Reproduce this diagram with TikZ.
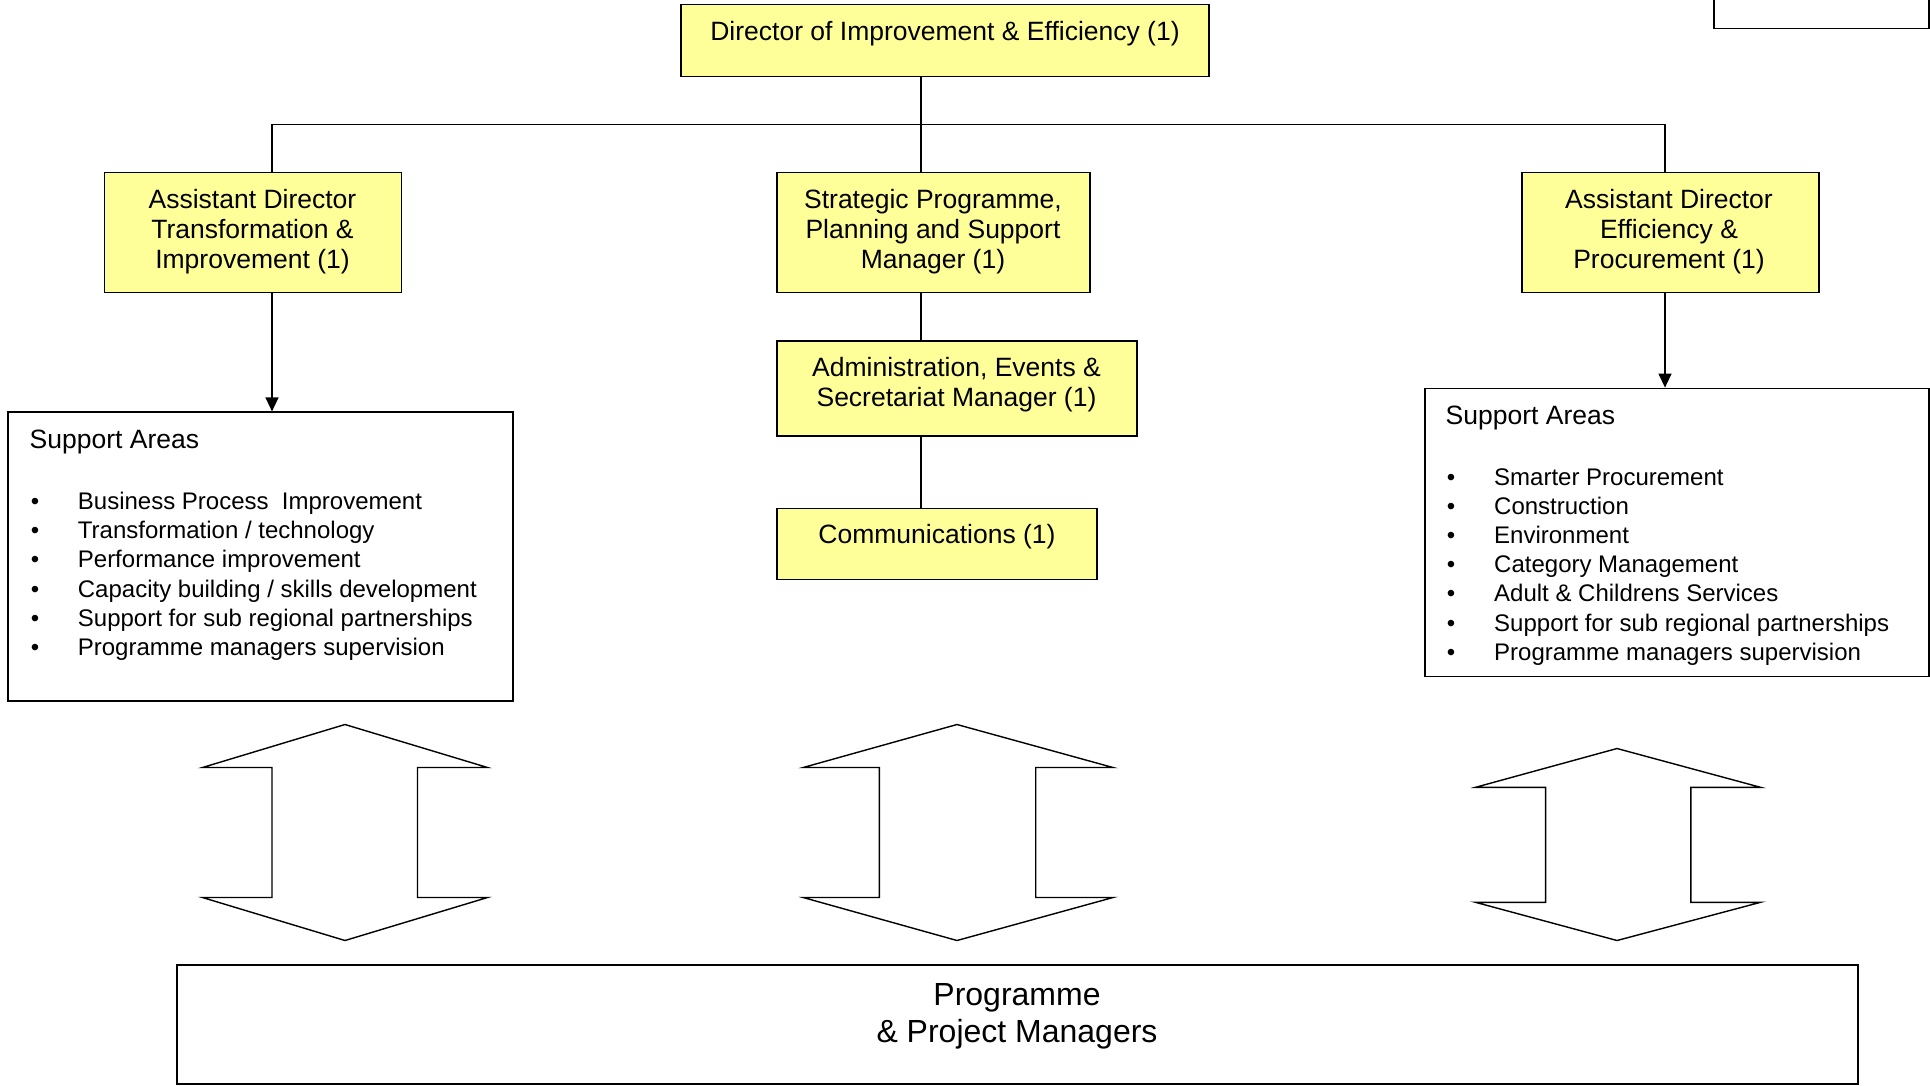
\documentclass[tikz,border=0pt]{standalone}
\usepackage{fontspec}
\setmainfont{Liberation Sans}
\usetikzlibrary{arrows.meta}
\definecolor{boxyellow}{HTML}{FFFF99}
\begin{document}
\begin{tikzpicture}[x=1pt,y=-1pt,
  ybox/.style={draw=black, line width=1.4pt, fill=boxyellow, inner sep=0pt},
  wbox/.style={draw=black, line width=1.4pt, fill=white, inner sep=0pt},
  conn/.style={draw=black, line width=1.4pt},
  arr/.style={conn, -{Triangle[length=14pt,width=13pt]}},
  dbl/.style={draw=black, line width=1.4pt, line join=miter},
  btxt/.style={font=\fontsize{26.5}{30}\selectfont, align=center, anchor=base, inner sep=0pt},
  htxt/.style={font=\fontsize{26.5}{30}\selectfont, anchor=base west, inner sep=0pt},
  ltxt/.style={font=\fontsize{24}{29.2}\selectfont, anchor=base west, inner sep=0pt},
  bul/.style={font=\fontsize{24}{29.2}\selectfont, anchor=base, inner sep=0pt},
  bigtxt/.style={font=\fontsize{32}{37}\selectfont, align=center, anchor=base, inner sep=0pt}]
\useasboundingbox (0,0) rectangle (1930,1085);

% partial box at top right
\draw[conn] (1714,0) -- (1714,28.3) -- (1929,28.3) -- (1929,0);

% boxes (text nodes anchored at the baseline of their last line)
\node[ybox, minimum width=528pt, minimum height=72pt] (dir) at (945,40.3) {};
\node[btxt] (dirt) at (945,40) {Director of Improvement \& Efficiency (1)};

\node[ybox, minimum width=297pt, minimum height=120pt] (adt) at (253,232.6) {};
\node[btxt] (adtt) at (252.5,268.3) {Assistant Director\\Transformation \&\\Improvement (1)};

\node[ybox, minimum width=313pt, minimum height=120pt] (spp) at (933.5,232.6) {};
\node[btxt] (sppt) at (933,268.3) {Strategic Programme,\\Planning and Support\\Manager (1)};

\node[ybox, minimum width=297pt, minimum height=120pt] (ade) at (1670.5,232.6) {};
\node[btxt] (adet) at (1669,268.3) {Assistant Director\\Efficiency \&\\Procurement (1)};

\node[ybox, minimum width=360pt, minimum height=95pt] (adm) at (957,388.5) {};
\node[btxt] (admt) at (956.5,406.5) {Administration, Events \&\\Secretariat Manager (1)};

\node[ybox, minimum width=320pt, minimum height=71.5pt] (com) at (937,544) {};
\node[btxt] (comt) at (937,543.5) {Communications (1)};

% support boxes
\node[wbox, minimum width=505pt, minimum height=289pt] (supL) at (260.5,556.6) {};
\node[htxt] (supLh) at (29.5,448.3) {Support Areas};
\node[bul] (lb1) at (35,509.5) {•}; \node[ltxt] (l1) at (77.7,509.5) {Business Process\ \ Improvement};
\node[bul] (lb2) at (35,538.7) {•}; \node[ltxt] (l2) at (77.7,538.7) {Transformation / technology};
\node[bul] (lb3) at (35,567.9) {•}; \node[ltxt] (l3) at (77.7,567.9) {Performance improvement};
\node[bul] (lb4) at (35,597.1) {•}; \node[ltxt] (l4) at (77.7,597.1) {Capacity building / skills development};
\node[bul] (lb5) at (35,626.3) {•}; \node[ltxt] (l5) at (77.7,626.3) {Support for sub regional partnerships};
\node[bul] (lb6) at (35,655.5) {•}; \node[ltxt] (l6) at (77.7,655.5) {Programme managers supervision};

\node[wbox, minimum width=504pt, minimum height=288.4pt] (supR) at (1677,532.5) {};
\node[htxt] (supRh) at (1445.5,424) {Support Areas};
\node[bul] (rb1) at (1451,485.0) {•}; \node[ltxt] (r1) at (1494,485.0) {Smarter Procurement};
\node[bul] (rb2) at (1451,514.2) {•}; \node[ltxt] (r2) at (1494,514.2) {Construction};
\node[bul] (rb3) at (1451,543.4) {•}; \node[ltxt] (r3) at (1494,543.4) {Environment};
\node[bul] (rb4) at (1451,572.6) {•}; \node[ltxt] (r4) at (1494,572.6) {Category Management};
\node[bul] (rb5) at (1451,601.8) {•}; \node[ltxt] (r5) at (1494,601.8) {Adult \& Childrens Services};
\node[bul] (rb6) at (1451,631.0) {•}; \node[ltxt] (r6) at (1494,631.0) {Support for sub regional partnerships};
\node[bul] (rb7) at (1451,660.2) {•}; \node[ltxt] (r7) at (1494,660.2) {Programme managers supervision};

% bottom box
\node[wbox, minimum width=1681pt, minimum height=119pt] (pm) at (1017.5,1024.5) {};
\node[bigtxt] (pmt) at (1017,1042) {Programme\\\& Project Managers};

% connectors
\coordinate (cL) at (272,124.3);
\coordinate (cM) at (921,124.3);
\coordinate (cR) at (1665,124.3);
\draw[conn] (dir.south -| cM) -- (cM);
\draw[conn] (cL) -- (cR);
\draw[conn] (cL) -- (adt.north -| cL);
\draw[conn] (cM) -- (spp.north -| cM);
\draw[conn] (cR) -- (ade.north -| cR);
\draw[conn] (spp.south -| cM) -- (adm.north -| cM);
\draw[conn] (adm.south -| cM) -- (com.north -| cM);
\draw[arr] (adt.south -| cL) -- (supL.north -| cL);
\draw[arr] (ade.south -| cR) -- (supR.north -| cR);

% double arrows
\draw[dbl] (345,724.5) -- (487.5,767.5) -- (417.5,767.5) -- (417.5,897.5) -- (487.5,897.5) -- (345,940.5)
  -- (202.5,897.5) -- (272,897.5) -- (272,767.5) -- (202.5,767.5) -- cycle;
\draw[dbl] (957,724.5) -- (1113,767.5) -- (1035.7,767.5) -- (1035.7,897.5) -- (1113,897.5) -- (957,940.5)
  -- (803.2,897.5) -- (879.3,897.5) -- (879.3,767.5) -- (803.2,767.5) -- cycle;
\draw[dbl] (1617,748.5) -- (1760.5,787.3) -- (1690.9,787.3) -- (1690.9,902.3) -- (1760.5,902.3) -- (1617,940.5)
  -- (1475.5,902.3) -- (1545.6,902.3) -- (1545.6,787.3) -- (1475.5,787.3) -- cycle;
\end{tikzpicture}
\end{document}
